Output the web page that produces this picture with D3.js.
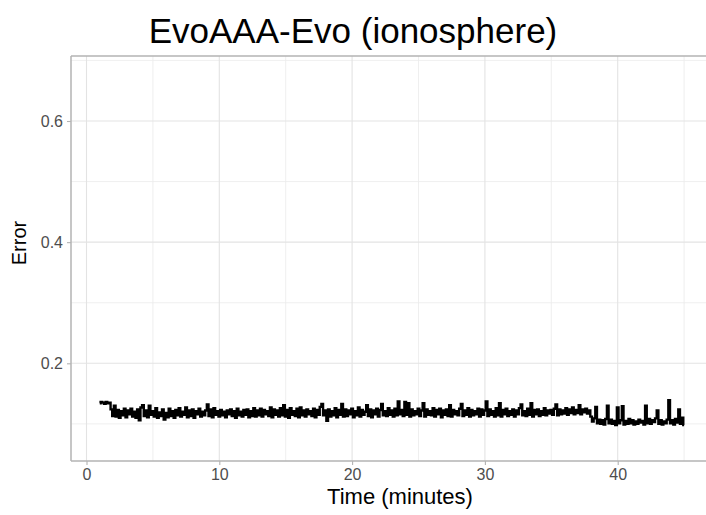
<!DOCTYPE html>
<html>
<head>
<meta charset="utf-8">
<script src="https://cdn.jsdelivr.net/npm/d3@7"></script>
<style>
  html, body { margin: 0; padding: 0; background: #fff; }
  svg { display: block; font-family: "Liberation Sans", Arial, Helvetica, sans-serif; }
</style>
</head>
<body>
<svg id="chart" width="706" height="515"></svg>
<script>
const chartTitle = "EvoAAA-Evo (ionosphere)";
const xTitle = "Time (minutes)";
const yTitle = "Error";
const xTicks = [0, 10, 20, 30, 40];
const xMinor = [5, 15, 25, 35, 45];
const yTicks = [0.2, 0.4, 0.6];
const yMinor = [0.1, 0.3, 0.5, 0.7];

// time (minutes) of each sample
const times = [
  1.000, 1.125, 1.250, 1.375, 1.500, 1.625, 1.750, 1.875,
  2.000, 2.125, 2.250, 2.375, 2.500, 2.625, 2.750, 2.875,
  3.000, 3.125, 3.250, 3.375, 3.500, 3.625, 3.750, 3.875,
  4.000, 4.125, 4.250, 4.375, 4.500, 4.625, 4.750, 4.875,
  5.000, 5.125, 5.250, 5.375, 5.500, 5.625, 5.750, 5.875,
  6.000, 6.125, 6.250, 6.375, 6.500, 6.625, 6.750, 6.875,
  7.000, 7.125, 7.250, 7.375, 7.500, 7.625, 7.750, 7.875,
  8.000, 8.125, 8.250, 8.375, 8.500, 8.625, 8.750, 8.875,
  9.000, 9.125, 9.250, 9.375, 9.500, 9.625, 9.750, 9.875,
  10.000, 10.125, 10.250, 10.375, 10.500, 10.625, 10.750, 10.875,
  11.000, 11.125, 11.250, 11.375, 11.500, 11.625, 11.750, 11.875,
  12.000, 12.125, 12.250, 12.375, 12.500, 12.625, 12.750, 12.875,
  13.000, 13.125, 13.250, 13.375, 13.500, 13.625, 13.750, 13.875,
  14.000, 14.125, 14.250, 14.375, 14.500, 14.625, 14.750, 14.875,
  15.000, 15.125, 15.250, 15.375, 15.500, 15.625, 15.750, 15.875,
  16.000, 16.125, 16.250, 16.375, 16.500, 16.625, 16.750, 16.875,
  17.000, 17.125, 17.250, 17.375, 17.500, 17.625, 17.750, 17.875,
  18.000, 18.125, 18.250, 18.375, 18.500, 18.625, 18.750, 18.875,
  19.000, 19.125, 19.250, 19.375, 19.500, 19.625, 19.750, 19.875,
  20.000, 20.125, 20.250, 20.375, 20.500, 20.625, 20.750, 20.875,
  21.000, 21.125, 21.250, 21.375, 21.500, 21.625, 21.750, 21.875,
  22.000, 22.125, 22.250, 22.375, 22.500, 22.625, 22.750, 22.875,
  23.000, 23.125, 23.250, 23.375, 23.500, 23.625, 23.750, 23.875,
  24.000, 24.125, 24.250, 24.375, 24.500, 24.625, 24.750, 24.875,
  25.000, 25.125, 25.250, 25.375, 25.500, 25.625, 25.750, 25.875,
  26.000, 26.125, 26.250, 26.375, 26.500, 26.625, 26.750, 26.875,
  27.000, 27.125, 27.250, 27.375, 27.500, 27.625, 27.750, 27.875,
  28.000, 28.125, 28.250, 28.375, 28.500, 28.625, 28.750, 28.875,
  29.000, 29.125, 29.250, 29.375, 29.500, 29.625, 29.750, 29.875,
  30.000, 30.125, 30.250, 30.375, 30.500, 30.625, 30.750, 30.875,
  31.000, 31.125, 31.250, 31.375, 31.500, 31.625, 31.750, 31.875,
  32.000, 32.125, 32.250, 32.375, 32.500, 32.625, 32.750, 32.875,
  33.000, 33.125, 33.250, 33.375, 33.500, 33.625, 33.750, 33.875,
  34.000, 34.125, 34.250, 34.375, 34.500, 34.625, 34.750, 34.875,
  35.000, 35.125, 35.250, 35.375, 35.500, 35.625, 35.750, 35.875,
  36.000, 36.125, 36.250, 36.375, 36.500, 36.625, 36.750, 36.875,
  37.000, 37.125, 37.250, 37.375, 37.500, 37.625, 37.750, 37.875,
  38.000, 38.125, 38.250, 38.375, 38.500, 38.625, 38.750, 38.875,
  39.000, 39.125, 39.250, 39.375, 39.500, 39.625, 39.750, 39.875,
  40.000, 40.125, 40.250, 40.375, 40.500, 40.625, 40.750, 40.875,
  41.000, 41.125, 41.250, 41.375, 41.500, 41.625, 41.750, 41.875,
  42.000, 42.125, 42.250, 42.375, 42.500, 42.625, 42.750, 42.875,
  43.000, 43.125, 43.250, 43.375, 43.500, 43.625, 43.750, 43.875,
  44.000, 44.125, 44.250, 44.375, 44.500, 44.625, 44.750, 44.875,
  45.000
];

// error value of each sample
const errors = [
  0.134, 0.136, 0.135, 0.133, 0.136, 0.134, 0.135, 0.124,
  0.113, 0.130, 0.112, 0.123, 0.110, 0.121, 0.114, 0.125,
  0.111, 0.122, 0.116, 0.125, 0.112, 0.120, 0.110, 0.124,
  0.106, 0.127, 0.131, 0.113, 0.122, 0.111, 0.130, 0.115,
  0.121, 0.112, 0.126, 0.110, 0.119, 0.113, 0.124, 0.107,
  0.118, 0.111, 0.125, 0.113, 0.121, 0.110, 0.123, 0.114,
  0.126, 0.112, 0.120, 0.115, 0.127, 0.111, 0.122, 0.113,
  0.124, 0.110, 0.121, 0.116, 0.125, 0.112, 0.120, 0.114,
  0.122, 0.132, 0.113, 0.124, 0.111, 0.126, 0.115, 0.121,
  0.112, 0.123, 0.114, 0.120, 0.111, 0.122, 0.116, 0.124,
  0.113, 0.121, 0.110, 0.125, 0.114, 0.120, 0.112, 0.123,
  0.115, 0.124, 0.111, 0.121, 0.113, 0.126, 0.112, 0.122,
  0.114, 0.125, 0.112, 0.123, 0.116, 0.121, 0.113, 0.127,
  0.111, 0.124, 0.115, 0.122, 0.112, 0.126, 0.114, 0.131,
  0.112, 0.123, 0.110, 0.126, 0.115, 0.121, 0.113, 0.125,
  0.111, 0.127, 0.114, 0.122, 0.112, 0.124, 0.116, 0.121,
  0.113, 0.125, 0.111, 0.123, 0.115, 0.128, 0.133, 0.114,
  0.122, 0.105, 0.124, 0.112, 0.121, 0.114, 0.126, 0.111,
  0.123, 0.115, 0.133, 0.112, 0.124, 0.113, 0.122, 0.116,
  0.125, 0.111, 0.121, 0.114, 0.127, 0.112, 0.123, 0.115,
  0.120, 0.131, 0.113, 0.124, 0.111, 0.122, 0.116, 0.125,
  0.112, 0.123, 0.133, 0.114, 0.121, 0.113, 0.126, 0.115,
  0.122, 0.112, 0.125, 0.114, 0.137, 0.116, 0.123, 0.113,
  0.136, 0.115, 0.134, 0.112, 0.124, 0.114, 0.121, 0.116,
  0.125, 0.113, 0.122, 0.134, 0.112, 0.124, 0.115, 0.121,
  0.114, 0.126, 0.112, 0.123, 0.116, 0.125, 0.111, 0.122,
  0.115, 0.124, 0.113, 0.131, 0.112, 0.123, 0.116, 0.121,
  0.114, 0.125, 0.133, 0.113, 0.122, 0.115, 0.126, 0.112,
  0.123, 0.114, 0.121, 0.116, 0.125, 0.112, 0.124, 0.115,
  0.122, 0.137, 0.113, 0.124, 0.115, 0.121, 0.112, 0.126,
  0.114, 0.134, 0.112, 0.123, 0.116, 0.125, 0.113, 0.121,
  0.115, 0.124, 0.112, 0.122, 0.116, 0.126, 0.132, 0.114,
  0.121, 0.113, 0.125, 0.115, 0.134, 0.112, 0.123, 0.116,
  0.124, 0.113, 0.121, 0.115, 0.126, 0.114, 0.122, 0.117,
  0.123, 0.115, 0.125, 0.132, 0.114, 0.124, 0.116, 0.122,
  0.117, 0.126, 0.115, 0.124, 0.118, 0.127, 0.116, 0.123,
  0.118, 0.131, 0.116, 0.124, 0.119, 0.125, 0.117, 0.122,
  0.112, 0.104, 0.109, 0.128, 0.101, 0.107, 0.100, 0.106,
  0.099, 0.108, 0.130, 0.101, 0.107, 0.100, 0.105, 0.098,
  0.127, 0.101, 0.106, 0.129, 0.099, 0.105, 0.100, 0.108,
  0.101, 0.106, 0.099, 0.104, 0.100, 0.107, 0.102, 0.105,
  0.099, 0.130, 0.101, 0.108, 0.100, 0.106, 0.103, 0.109,
  0.122, 0.100, 0.106, 0.099, 0.104, 0.101, 0.107, 0.139,
  0.101, 0.106, 0.099, 0.108, 0.102, 0.124, 0.100, 0.110,
  0.098
];

const data = times.map((t, i) => ({ t: t, e: errors[i] }));

const svg = d3.select("#chart");
const panel = { left: 71, top: 56, right: 708, bottom: 461 };

const x = d3.scaleLinear().domain([0, 40]).range([86.5, 617.7]);
const y = d3.scaleLinear().domain([0.2, 0.6]).range([363.3, 121]);

svg.append("rect").attr("width", 706).attr("height", 515).attr("fill", "#fff");

svg.append("defs").append("clipPath").attr("id", "clip")
  .append("rect")
  .attr("x", panel.left).attr("y", panel.top)
  .attr("width", panel.right - panel.left).attr("height", panel.bottom - panel.top);

const g = svg.append("g").attr("clip-path", "url(#clip)");

// minor grid
g.selectAll(".vminor").data(xMinor).join("line")
  .attr("x1", d => x(d)).attr("x2", d => x(d))
  .attr("y1", panel.top).attr("y2", panel.bottom)
  .attr("stroke", "#ebebeb").attr("stroke-width", 0.8);
g.selectAll(".hminor").data(yMinor).join("line")
  .attr("y1", d => y(d)).attr("y2", d => y(d))
  .attr("x1", panel.left).attr("x2", panel.right)
  .attr("stroke", "#ebebeb").attr("stroke-width", 0.8);
// major grid
g.selectAll(".vmajor").data(xTicks).join("line")
  .attr("x1", d => x(d)).attr("x2", d => x(d))
  .attr("y1", panel.top).attr("y2", panel.bottom)
  .attr("stroke", "#e3e3e3").attr("stroke-width", 1.1);
g.selectAll(".hmajor").data(yTicks).join("line")
  .attr("y1", d => y(d)).attr("y2", d => y(d))
  .attr("x1", panel.left).attr("x2", panel.right)
  .attr("stroke", "#e3e3e3").attr("stroke-width", 1.1);

// data line
const line = d3.line().x(d => x(d.t)).y(d => y(d.e)).curve(d3.curveStep);
g.append("path").datum(data)
  .attr("d", line)
  .attr("fill", "none")
  .attr("stroke", "#000")
  .attr("stroke-width", 2.4)
  .attr("stroke-linejoin", "miter");

// panel border (left, top, bottom)
const border = "#b3b3b3";
svg.append("line").attr("x1", panel.left).attr("x2", panel.left)
  .attr("y1", panel.top).attr("y2", panel.bottom).attr("stroke", border).attr("stroke-width", 1.5);
svg.append("line").attr("x1", panel.left).attr("x2", 706)
  .attr("y1", panel.top).attr("y2", panel.top).attr("stroke", border).attr("stroke-width", 1.5);
svg.append("line").attr("x1", panel.left).attr("x2", 706)
  .attr("y1", panel.bottom).attr("y2", panel.bottom).attr("stroke", border).attr("stroke-width", 1.5);

// axes
const xAxis = d3.axisBottom(x).tickValues(xTicks).tickSize(4).tickPadding(4).tickFormat(d3.format("d"));
const yAxis = d3.axisLeft(y).tickValues(yTicks).tickSize(4).tickPadding(4).tickFormat(d3.format(".1f"));

const gx = svg.append("g").attr("transform", `translate(0,${panel.bottom})`).call(xAxis);
const gy = svg.append("g").attr("transform", `translate(${panel.left},0)`).call(yAxis);
[gx, gy].forEach(a => {
  a.select(".domain").remove();
  a.selectAll(".tick line").attr("stroke", border).attr("stroke-width", 1.1);
  a.selectAll(".tick text").attr("fill", "#4d4d4d")
    .style("font-size", "16px").style("font-family", "Liberation Sans, Arial, sans-serif");
});

// titles
svg.append("text").attr("x", 353).attr("y", 43).attr("text-anchor", "middle")
  .style("font-size", "35px").attr("fill", "#000").text(chartTitle);
svg.append("text").attr("x", 400).attr("y", 504).attr("text-anchor", "middle")
  .style("font-size", "22px").attr("fill", "#000").text(xTitle);
svg.append("text").attr("transform", "translate(26,243) rotate(-90)").attr("text-anchor", "middle")
  .style("font-size", "20px").attr("fill", "#000").text(yTitle);
</script>
</body>
</html>
